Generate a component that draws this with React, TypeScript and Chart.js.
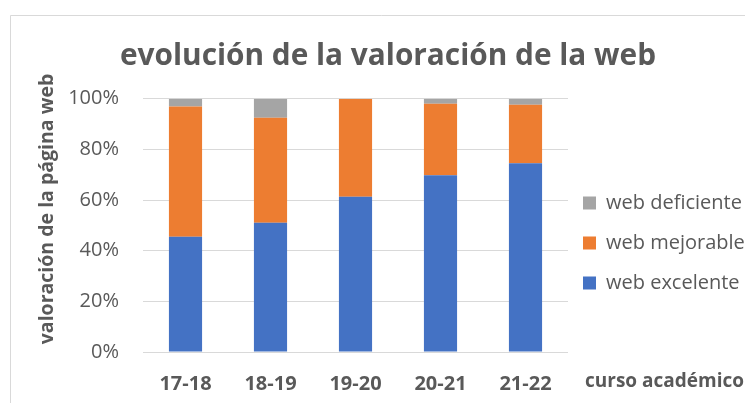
import React, { useEffect, useRef } from "react";
import { Chart, registerables } from "chart.js";

Chart.register(...registerables);

const categories = ["17-18", "18-19", "19-20", "20-21", "21-22"];
const webExcelente = [45.5, 51.0, 61.3, 69.8, 74.5];
const webMejorable = [51.4, 41.5, 38.7, 28.2, 23.1];
const webDeficiente = [3.1, 7.5, 0, 2.0, 2.4];
const seriesNames = ["web excelente", "web mejorable", "web deficiente"];
const seriesColors = ["#4472C4", "#ED7D31", "#A5A5A5"];
const chartTitle = "evolución de la valoración de la web";
const yAxisTitle = "valoración de la página web";
const xAxisTitle = "curso académico";

const FONT = "'Open Sans', 'DejaVu Sans', sans-serif";
const TEXT = "#595959";

const decorPlugin = {
  id: "decor",
  beforeDraw(chart: any) {
    const { ctx, width, height } = chart;
    ctx.save();
    ctx.fillStyle = "#ffffff";
    ctx.fillRect(0, 0, width, height);
    ctx.strokeStyle = "#d9d9d9";
    ctx.lineWidth = 1;
    ctx.beginPath();
    ctx.moveTo(2.5, height);
    ctx.lineTo(2.5, 7.5);
    ctx.lineTo(width, 7.5);
    ctx.stroke();
    ctx.restore();
  },
  afterLayout(chart: any) {
    const lg = chart.legend;
    if (lg) {
      const shift = chart.chartArea.right - 5 - lg.left;
      lg.left += shift;
      lg.right += shift;
    }
  },
  afterDraw(chart: any) {
    const { ctx, chartArea } = chart;
    ctx.save();
    ctx.fillStyle = TEXT;
    ctx.font = `bold 19px ${FONT}`;
    ctx.textAlign = "left";
    ctx.textBaseline = "alphabetic";
    ctx.fillText(xAxisTitle, chartArea.right + 17, chartArea.bottom + 35);
    ctx.translate(45, 201);
    ctx.rotate(-Math.PI / 2);
    ctx.textAlign = "center";
    ctx.font = `bold 19.5px ${FONT}`;
    ctx.fillText(yAxisTitle, 0, 0);
    ctx.restore();
  },
};

export default function App() {
  const ref = useRef<HTMLCanvasElement | null>(null);
  useEffect(() => {
    if (!ref.current) return;
    const data = [webExcelente, webMejorable, webDeficiente];
    const chart = new Chart(ref.current, {
      type: "bar",
      data: {
        labels: categories,
        datasets: seriesNames.map((name, i) => ({
          label: name,
          data: data[i],
          backgroundColor: seriesColors[i],
          borderWidth: 0,
          barPercentage: 0.39,
          categoryPercentage: 1,
        })),
      },
      options: {
        animation: false,
        responsive: false,
        maintainAspectRatio: false,
        layout: { padding: { left: 15, right: 0, top: 0, bottom: 0 } },
        scales: {
          x: {
            stacked: true,
            grid: { display: false, drawTicks: false },
            border: { display: false },
            ticks: {
              color: TEXT,
              font: { family: FONT, size: 20, weight: "bold" },
              padding: 20,
              maxRotation: 0,
            },
            afterFit: (s: any) => {
              s.height = 51;
            },
          },
          y: {
            stacked: true,
            min: 0,
            max: 100,
            grid: { color: "#d9d9d9", drawTicks: false, lineWidth: 1 },
            border: { display: false },
            ticks: {
              stepSize: 20,
              color: TEXT,
              font: { family: FONT, size: 20 },
              padding: 24,
              callback: (v: any) => `${v}%`,
            },
            afterFit: (s: any) => {
              s.width = 120;
            },
          },
        },
        plugins: {
          title: {
            display: true,
            text: chartTitle,
            color: TEXT,
            font: { family: FONT, size: 29.8, weight: "bold" },
            padding: { top: 31, bottom: 24 },
          },
          legend: {
            position: "right",
            fullSize: false,
            reverse: true,
            maxWidth: 185,
            title: { display: true, text: " ", font: { size: 10, lineHeight: 3.54 }, padding: 0 },
            labels: {
              boxWidth: 13,
              boxHeight: 13,
              padding: 20,
              color: TEXT,
              font: { family: FONT, size: 20 },
            },
          },
          tooltip: { enabled: false },
        },
      },
      plugins: [decorPlugin],
    } as any);
    return () => chart.destroy();
  }, []);
  return (
    <div style={{ width: 745, height: 395 }}>
      <canvas ref={ref} width={745} height={395} style={{ display: "block" }} />
    </div>
  );
}
